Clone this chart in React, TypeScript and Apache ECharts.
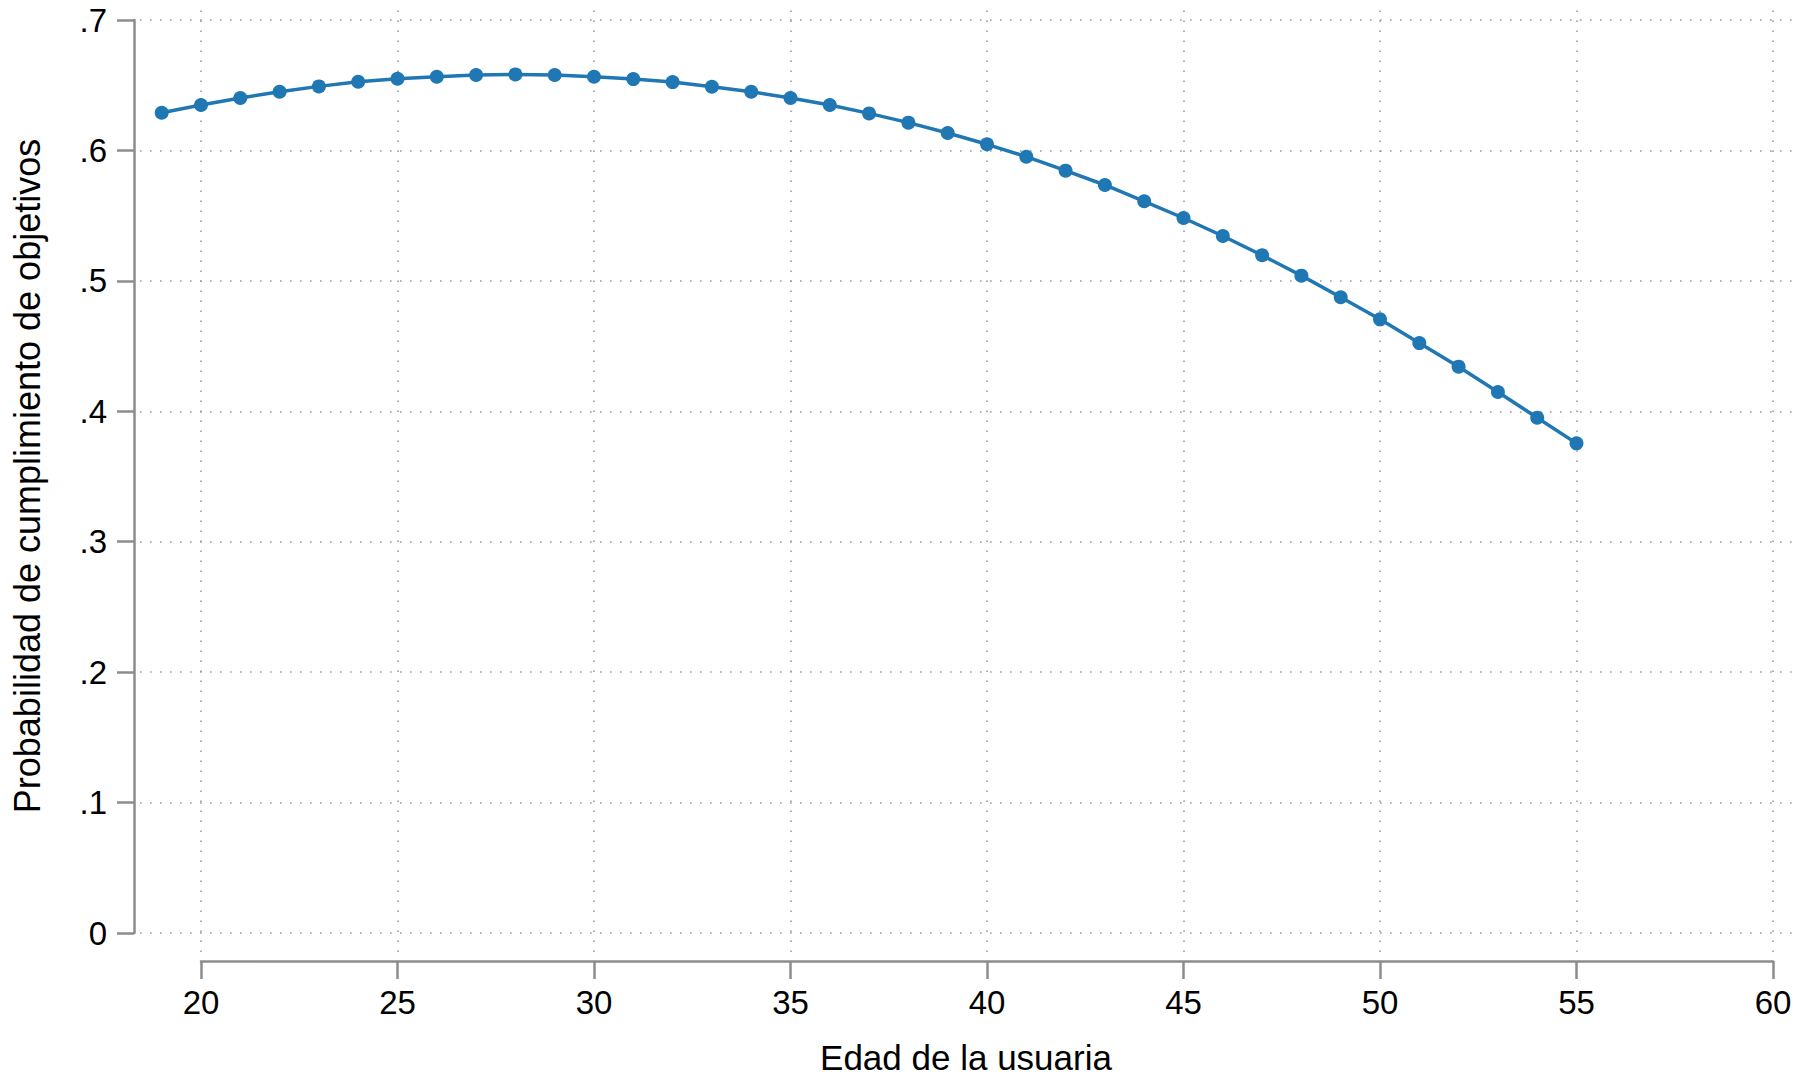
import React, { useEffect, useRef } from "react";
import * as echarts from "echarts";

const ages = [19, 20, 21, 22, 23, 24, 25, 26, 27, 28, 29, 30, 31, 32, 33, 34, 35, 36, 37, 38, 39, 40, 41, 42, 43, 44, 45, 46, 47, 48, 49, 50, 51, 52, 53, 54, 55];
const probs = [
  0.6289, 0.6348, 0.6402, 0.6450, 0.6491, 0.6527, 0.6550, 0.6565, 0.6578, 0.6583,
  0.6578, 0.6565, 0.6547, 0.6524, 0.6488, 0.6450, 0.6402, 0.6348, 0.6284, 0.6213,
  0.6134, 0.6047, 0.5952, 0.5845, 0.5735, 0.5610, 0.5482, 0.5344, 0.5196, 0.5040,
  0.4874, 0.4705, 0.4523, 0.4342, 0.4148, 0.3951, 0.3754,
];
const xTicks = [20, 25, 30, 35, 40, 45, 50, 55, 60];
const yTicks = [0, 0.1, 0.2, 0.3, 0.4, 0.5, 0.6, 0.7];
const xTitle = "Edad de la usuaria";
const yTitle = "Probabilidad de cumplimiento de objetivos";

const FONT = "'Liberation Sans', Arial, Helvetica, sans-serif";
const BLUE = "#1f77b4";
const AXIS = "#8c8c8c";

export default function App() {
  const ref = useRef<HTMLDivElement>(null);
  useEffect(() => {
    if (!ref.current) return;
    const chart = echarts.init(ref.current, undefined, { renderer: "svg" });
    const gridLineStyle = { color: "#9a9a9a", width: 1.6, type: [1.6, 8.4] as any };
    chart.setOption({
      animation: false,
      backgroundColor: "#ffffff",
      textStyle: { fontFamily: FONT },
      grid: [
        { left: 140, right: 0, top: 5, height: 947 },
        { left: 201, width: 1572, top: 960, height: 1 },
        { left: 134, width: 1, top: 20, height: 913 },
      ],
      xAxis: [
        { type: "value", gridIndex: 0, min: 18.448, max: 60.687, show: false, splitLine: { show: false } },
        {
          type: "value", gridIndex: 1, min: 20, max: 60, interval: 5, position: "bottom",
          axisLine: { show: true, lineStyle: { color: AXIS, width: 2.5 } },
          axisTick: { show: true, length: 18, lineStyle: { color: AXIS, width: 2.5 } },
          axisLabel: { show: true, margin: 25, color: "#000", fontSize: 33, fontFamily: FONT },
          splitLine: { show: false },
        },
        { type: "value", gridIndex: 2, show: false, min: 0, max: 1 },
      ],
      yAxis: [
        { type: "value", gridIndex: 0, min: -0.01457, max: 0.7115, show: false, splitLine: { show: false } },
        { type: "value", gridIndex: 1, show: false, min: 0, max: 1 },
        {
          type: "value", gridIndex: 2, min: 0, max: 0.7, interval: 0.1, position: "left",
          axisLine: { show: true, lineStyle: { color: AXIS, width: 2.5 } },
          axisTick: { show: true, length: 17, lineStyle: { color: AXIS, width: 2.5 } },
          axisLabel: {
            show: true, margin: 27, color: "#000", fontSize: 33, fontFamily: FONT,
            formatter: (v: number) => (Math.abs(v) < 1e-9 ? "0" : "." + Math.round(v * 10)),
          },
          splitLine: { show: false },
        },
      ],
      graphic: [
        {
          type: "text", x: 966, y: 1057,
          style: { text: xTitle, fontSize: 35, fontFamily: FONT, fill: "#000", align: "center", verticalAlign: "middle" },
        },
        {
          type: "text", x: 27, y: 476, rotation: Math.PI / 2,
          style: { text: yTitle, fontSize: 36, fontFamily: FONT, fill: "#000", align: "center", verticalAlign: "middle" },
        },
      ],
      series: [
        {
          type: "line", xAxisIndex: 0, yAxisIndex: 0, data: [], z: 1, silent: true,
          markLine: {
            silent: true, symbol: "none", label: { show: false },
            lineStyle: gridLineStyle,
            data: [
              ...xTicks.map((v) => ({ xAxis: v })),
              ...yTicks.map((v) => ({ yAxis: v })),
            ],
          },
        },
        {
          type: "line", xAxisIndex: 0, yAxisIndex: 0, z: 5,
          data: ages.map((a, i) => [a, probs[i]]),
          symbol: "circle", symbolSize: 14, showSymbol: true,
          lineStyle: { color: BLUE, width: 3.5 },
          itemStyle: { color: BLUE, borderWidth: 0 },
        },
      ],
    });
    return () => chart.dispose();
  }, []);
  return <div ref={ref} style={{ position: "fixed", left: 0, top: 0, width: 1800, height: 1078 }} />;
}
